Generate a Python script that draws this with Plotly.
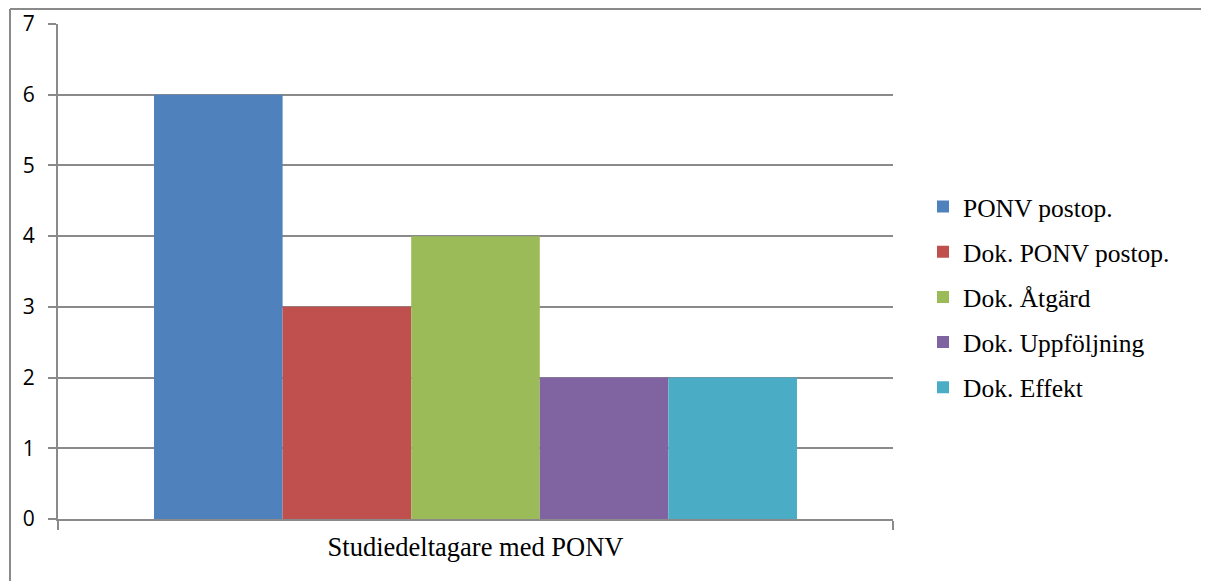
import plotly.graph_objects as go

categories = ["Studiedeltagare med PONV"]
series_names = ["PONV postop.", "Dok. PONV postop.", "Dok. Åtgärd", "Dok. Uppföljning", "Dok. Effekt"]
series_values = [[6], [3], [4], [2], [2]]
colors = ["#4F81BD", "#C0504D", "#9BBB59", "#8064A2", "#4BACC6"]
y_ticks = [0, 1, 2, 3, 4, 5, 6, 7]

OFF = 8  # page body margin
W, H = 1209 - OFF, 581 - OFF
L, R, T, B = 58 - OFF, 1209 - 893, 24 - OFF, 581 - 519
pw, ph = W - L - R, H - T - B

def px(x):
    return (x - OFF - L) / pw

def py(y):
    return (H - B - (y - OFF)) / ph

xpos = list(range(len(categories)))

fig = go.Figure()
for i, (name, vals) in enumerate(zip(series_names, series_values)):
    fig.add_trace(go.Bar(
        x=xpos, y=vals, name=name, marker=dict(color=colors[i], line=dict(width=0)),
        legendgroup=f"g{i}",
    ))

grid = "#8a8a8a"
serif = "Times New Roman, Liberation Serif, serif"
fig.update_layout(
    width=W, height=H,
    margin=dict(l=L, r=R, t=T, b=B, autoexpand=False),
    paper_bgcolor="white", plot_bgcolor="white",
    barmode="group", bargap=0.23, bargroupgap=0,
    showlegend=True,
    legend=dict(
        x=px(923), y=py(297), xanchor="left", yanchor="middle",
        font=dict(family=serif, size=25.5, color="black"),
        tracegroupgap=9, bgcolor="rgba(0,0,0,0)", itemwidth=30,
    ),
    xaxis=dict(
        range=[-0.5, 0.5], tickmode="array", tickvals=xpos, ticktext=categories,
        ticks="", showgrid=False, zeroline=False,
        showline=True, linecolor=grid, linewidth=2,
        tickfont=dict(family=serif, size=26.5, color="black"),
        ticklabelstandoff=3,
        minor=dict(ticks="outside", ticklen=9, tickwidth=2, tickcolor=grid,
                   tickmode="array", tickvals=[-0.5, 0.5], showgrid=False),
    ),
    yaxis=dict(
        range=[0, 7], tickvals=y_ticks, ticks="outside", ticklen=8, tickwidth=1.5,
        tickcolor=grid, showgrid=True, gridcolor=grid, gridwidth=1.5,
        showline=True, linecolor=grid, linewidth=2, zeroline=False,
        tickfont=dict(family="Open Sans", size=21, color="black"),
        ticklabelstandoff=9,
    ),
    shapes=[
        dict(type="line", xref="paper", yref="paper", x0=px(10), x1=px(1215),
             y0=py(9), y1=py(9), line=dict(color=grid, width=2)),
        dict(type="line", xref="paper", yref="paper", x0=px(10), x1=px(10),
             y0=py(9), y1=py(590), line=dict(color=grid, width=2)),
    ],
)

fig.write_html("out.html")
